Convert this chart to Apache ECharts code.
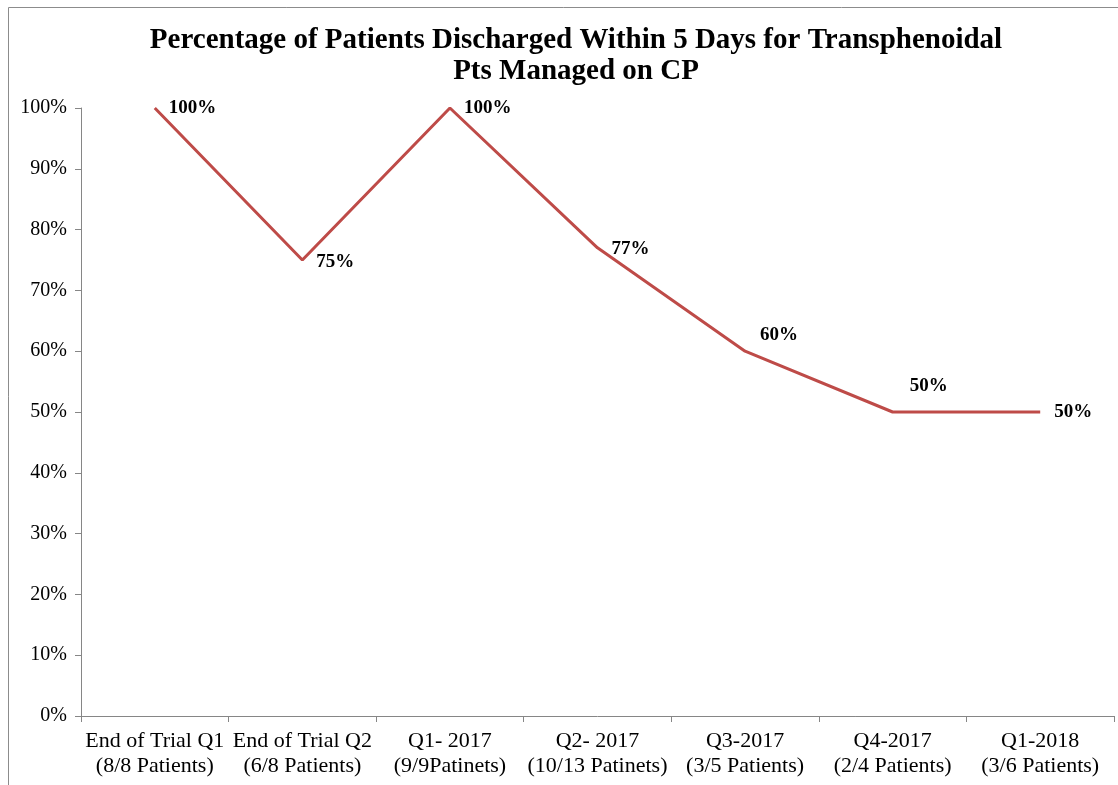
<!DOCTYPE html>
<html>
<head>
<meta charset="utf-8">
<script src="https://cdn.jsdelivr.net/npm/echarts@6/dist/echarts.min.js"></script>
<style>
  html, body { margin: 0; padding: 0; background: #fff; }
  #main { width: 1118px; height: 785px; }
</style>
</head>
<body>
<div id="main"></div>
<script>
// 数据
var categories = [
  'End of Trial Q1\n(8/8 Patients)',
  'End of Trial Q2\n(6/8 Patients)',
  'Q1- 2017\n(9/9Patinets)',
  'Q2- 2017\n(10/13 Patinets)',
  'Q3-2017\n(3/5 Patients)',
  'Q4-2017\n(2/4 Patients)',
  'Q1-2018\n(3/6 Patients)'
]
var percentValues = [100, 75, 100, 77, 60, 50, 50]
// 每个数据标签的偏移
var labelOffsets = [[9, 0], [9, 2], [9, 0], [9, 1], [10, -16], [12, -26], [9, 0]]

var font = '"Liberation Serif", "Times New Roman", serif'
var axisColor = '#868686'

var myChart = echarts.init(document.getElementById('main'))

var seriesData = percentValues.map(function (v, i) {
  return {
    value: v,
    label: { offset: labelOffsets[i] }
  }
})

var option = {
  backgroundColor: '#fff',
  animation: false,
  title: {
    text: 'Percentage of Patients Discharged Within 5 Days for Transphenoidal\nPts Managed on CP',
    left: 571,
    textAlign: 'center',
    top: 20,
    textStyle: {
      fontFamily: font,
      fontWeight: 'bold',
      fontSize: 29,
      lineHeight: 31,
      color: '#000'
    }
  },
  graphic: [
    {
      type: 'rect',
      shape: { x: 8.5, y: 7.5, width: 1200, height: 900 },
      style: { fill: 'none', stroke: '#8c8c8c', lineWidth: 1 },
      silent: true
    }
  ],
  grid: {
    left: 81,
    right: 4,
    top: 108,
    bottom: 69,
    containLabel: false
  },
  xAxis: {
    type: 'category',
    data: categories,
    boundaryGap: true,
    axisLine: { lineStyle: { color: axisColor, width: 1 } },
    axisTick: { show: true, length: 6, lineStyle: { color: axisColor } },
    axisLabel: {
      interval: 0,
      color: '#000',
      fontFamily: font,
      fontSize: 22,
      lineHeight: 25,
      margin: 13
    }
  },
  yAxis: {
    type: 'value',
    min: 0,
    max: 100,
    interval: 10,
    axisLine: { show: true, lineStyle: { color: axisColor, width: 1 } },
    axisTick: { show: true, length: 6, lineStyle: { color: axisColor } },
    splitLine: { show: false },
    axisLabel: {
      formatter: '{value}%',
      color: '#000',
      fontFamily: font,
      fontSize: 20,
      margin: 14
    }
  },
  series: [
    {
      type: 'line',
      data: seriesData,
      symbol: 'circle',
      symbolSize: 0,
      showSymbol: true,
      lineStyle: { color: '#BE4B48', width: 3 },
      itemStyle: { color: '#BE4B48' },
      label: {
        show: true,
        position: 'right',
        distance: 5,
        formatter: '{c}%',
        color: '#000',
        fontFamily: font,
        fontWeight: 'bold',
        fontSize: 19
      }
    }
  ]
}

myChart.setOption(option)
</script>
</body>
</html>
